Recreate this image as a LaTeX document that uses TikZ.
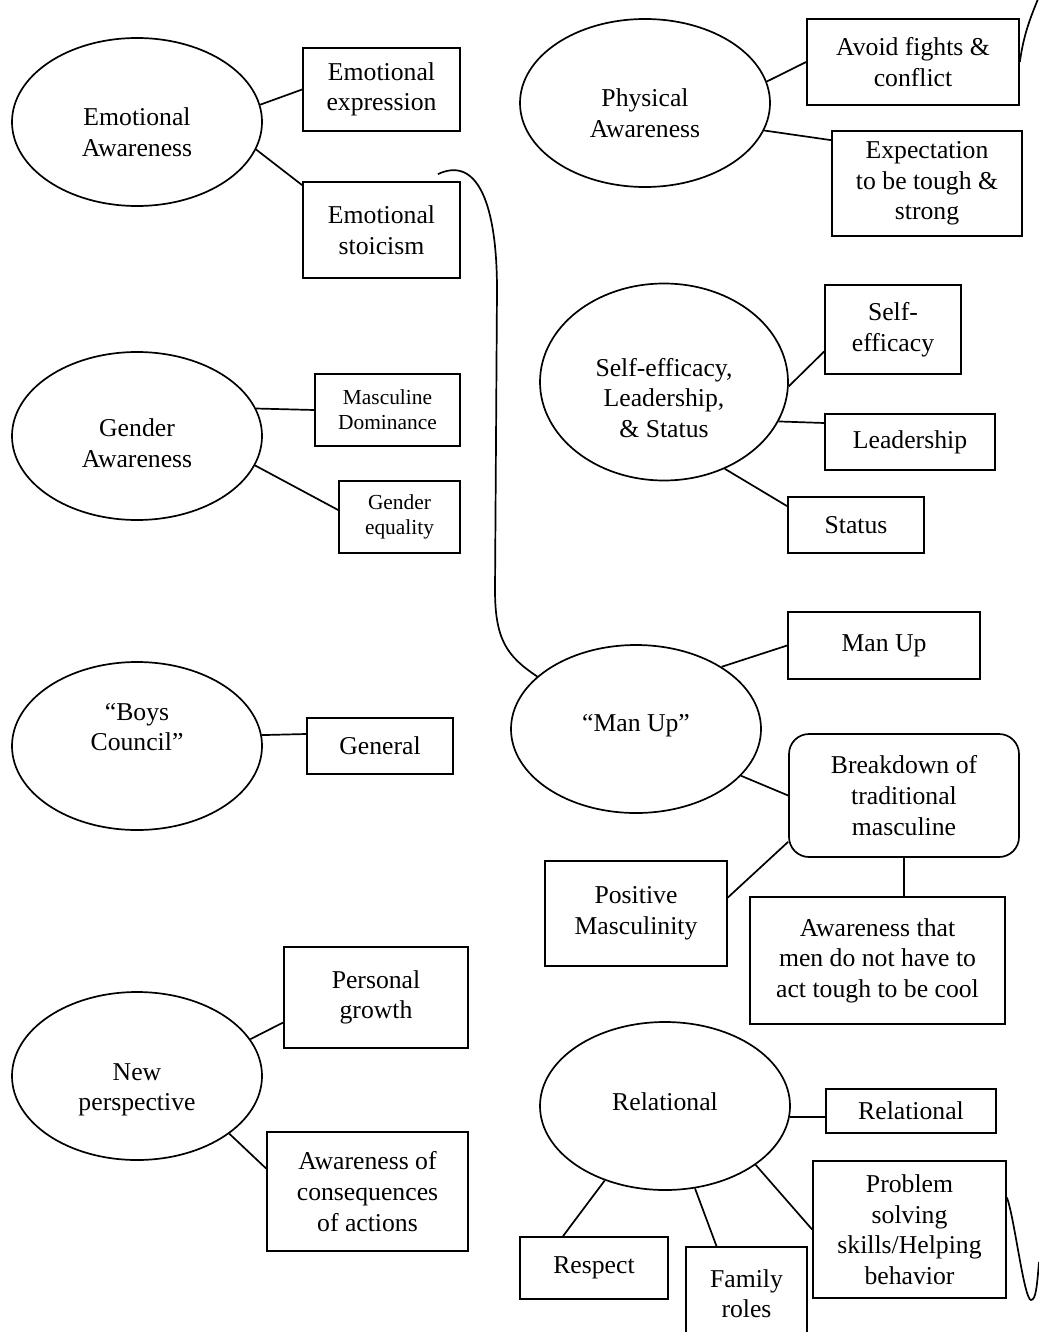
\documentclass[tikz,border=0pt]{standalone}
\usepackage{fontspec}
\setmainfont{Liberation Serif}
\usetikzlibrary{shapes.geometric}
\tikzset{
	every picture/.style={line width=1.7pt},
	every node/.style={font=\fontsize{25.7pt}{30.6pt}\selectfont},
	align=center,
	theme/.style={draw, ellipse, inner sep=0pt, minimum width=250pt, minimum height=168pt},
	code/.style={draw, rectangle, inner sep=0pt},
	smalltext/.style={font=\fontsize{21.4pt}{25pt}\selectfont}
}

\begin{document}
\begin{tikzpicture}[x=1pt, y=-1pt]
	\useasboundingbox (0,0) rectangle (1038,1332);
	% themes
	\node[theme, label={[yshift=-10pt]center:Emotional\\Awareness}] (ea) at (137,122) {};
	\node[theme, label={[yshift=-10pt]center:Physical\\Awareness}] (pa) at (645,103) {};
	\node[theme, minimum width=248pt, minimum height=197pt,
		label={[yshift=-16pt]center:Self-efficacy,\\Leadership,\\\& Status}] (sel) at (664,382) {};
	\node[theme, label={[yshift=-7pt]center:Gender\\Awareness}] (ga) at (137,436) {};
	\node[theme, label={[yshift=19pt]center:“Boys\\Council”}] (bc) at (137,746) {};
	\node[theme, label={[yshift=3pt]center:“Man Up”}] (mup) at (636,729) {};
	\node[theme, label={[yshift=-14pt]center:New\\perspective}] (np) at (137,1076) {};
	\node[theme, label={[yshift=4pt]center:Relational}] (rel) at (665,1106) {};
	% codes
	\node[code, minimum width=157pt, minimum height=83pt]  (ee)  at (381.5,89.5)  {Emotional\\expression};
	\node[code, minimum width=157pt, minimum height=96pt]  (es)  at (381.5,230)   {Emotional\\stoicism};
	\node[code, smalltext, minimum width=145pt, minimum height=72pt] (md) at (387.5,410) {Masculine\\Dominance};
	\node[code, smalltext, minimum width=121pt, minimum height=72pt] (ge) at (399.5,517) {Gender\\equality};
	\node[code, minimum width=146pt, minimum height=56pt]  (gen) at (380,746)     {General};
	\node[code, minimum width=184pt, minimum height=101pt] (pg)  at (376,997.5)   {Personal\\growth};
	\node[code, minimum width=201pt, minimum height=119pt] (aoc) at (367.5,1191.5) {Awareness of\\consequences\\of actions};
	\node[code, minimum width=212pt, minimum height=86pt]  (af)  at (913,62)      {Avoid fights \&\\conflict};
	\node[code, minimum width=190pt, minimum height=105pt] (et)  at (927,183.5)   {Expectation\\to be tough \&\\strong};
	\node[code, minimum width=136pt, minimum height=89pt]  (se)  at (893,329.5)   {Self-\\efficacy};
	\node[code, minimum width=170pt, minimum height=56pt]  (ld)  at (910,442)     {Leadership};
	\node[code, minimum width=136pt, minimum height=56pt]  (st)  at (856,525)     {Status};
	\node[code, minimum width=192pt, minimum height=67pt]  (mu)  at (884,645.5)   {Man Up};
	\node[code, rounded corners=20pt, minimum width=230pt, minimum height=123pt] (bd) at (904,795.5) {Breakdown of\\traditional\\masculine};
	\node[code, minimum width=182pt, minimum height=105pt] (pm)  at (636,913.5)   {Positive\\Masculinity};
	\node[code, minimum width=255pt, minimum height=127pt] (aw)  at (877.5,960.5) {Awareness that\\men do not have to\\act tough to be cool};
	\node[code, minimum width=170pt, minimum height=44pt]  (rb)  at (911,1111)    {Relational};
	\node[code, minimum width=193pt, minimum height=137pt] (ps)  at (909.5,1229.5) {Problem\\solving\\skills/Helping\\behavior};
	\node[code, minimum width=148pt, minimum height=62pt]  (rs)  at (594,1268)    {Respect};
	\node[code, minimum width=121pt, minimum height=93pt]  (fr)  at (746.5,1293.5) {Family\\roles};
	\coordinate (tr) at (1040,-6);
	\coordinate (br) at (1039,1262);
	\draw
	(ea.8) edge (ee.west)
	(ea.-13) edge ([yshift=-4pt]es.north west)
	(pa.10) edge (af.west)
	(pa.-13) edge ([yshift=-10pt]et.north west)
	(sel.-2) edge ([yshift=-22pt]se.west)
	(sel.-19) edge ([yshift=19pt]ld.west)
	(sel.-55) edge ([yshift=-10pt]st.north west)
	(ga.13) edge (md.west)
	(ga.-14) edge ([yshift=7pt]ge.west)
	(bc.5) edge ([yshift=12pt]gen.west)
	(mup.36) edge (mu.west)
	(mup.-24) edge (bd.west)
	([yshift=16pt]pm.east) edge ([yshift=16pt]bd.south west)
	(bd.south) edge (bd.south |- aw.north)
	(np.18) edge ([yshift=-25pt]pg.west)
	(np.-32) edge ([yshift=23pt]aoc.west)
	(rel.-5) edge ([yshift=-6pt]rb.west)
	(rel.-33) edge (ps.west)
	(rel.-129) edge ([xshift=-31pt]rs.north)
	(rel.-70) edge ([xshift=-30pt]fr.north)
	;
	\draw ([xshift=-23pt,yshift=7pt]es.north east) .. controls +(38,-18) and +(0,-90) .. (497,290)
		-- (495,590) .. controls +(0,50) and +(-30,-20) .. (mup.152);
	\draw (af.east) .. controls +(4,-30) and +(-8,20) .. (tr);
	\draw ([yshift=32pt]ps.east) .. controls (1014,1215) and (1024,1300) .. (1031,1300)
		.. controls (1036,1300) and (1037,1285) .. (br);
\end{tikzpicture}
\end{document}
